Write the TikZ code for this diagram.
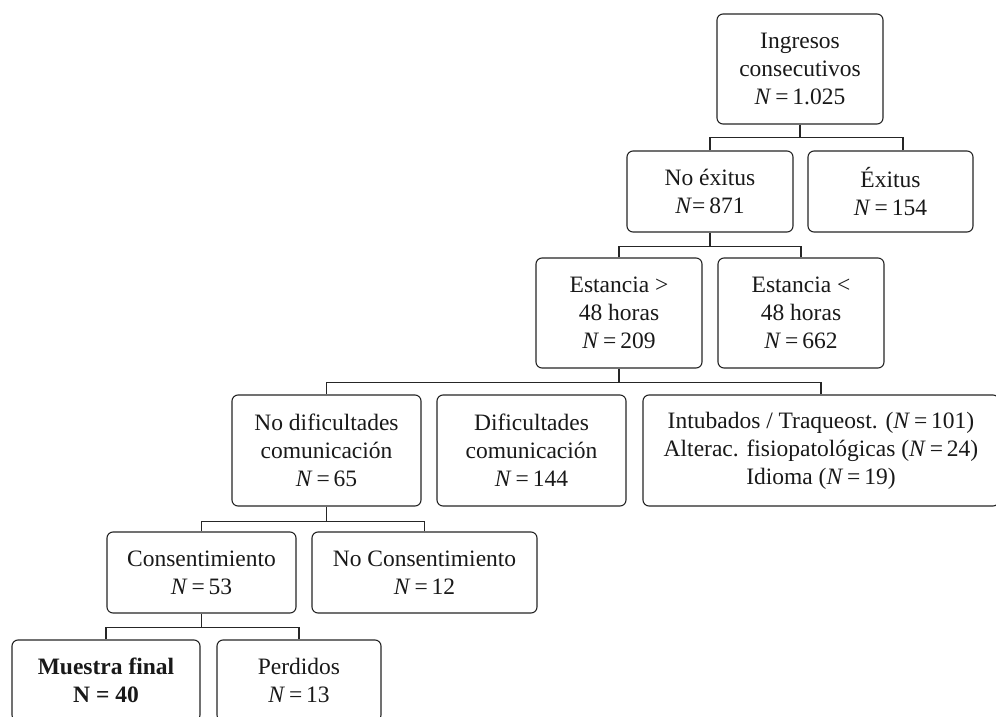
\documentclass[tikz,border=0pt]{standalone}
\usepackage{fontspec}
\setmainfont{Liberation Serif}
\usetikzlibrary{calc}
\begin{document}
\begin{tikzpicture}[x=1pt,y=-1pt,
  box/.style={draw=black!85, line width=1.1pt, rounded corners=6pt, inner sep=0pt,
    align=center, font=\fontsize{23.5}{28}\selectfont, text=black!90},
  conn/.style={draw=black!85, line width=1.1pt}]
\useasboundingbox (0,0) rectangle (996,717);
\fill[white] (0,0) rectangle (996,717);
\node[box, minimum width=166, minimum height=110] (top) at (800,69) {Ingresos\\consecutivos\\\textit{N}\,=\,1.025};
\node[box, minimum width=166, minimum height=81] (noexit) at (710,191.5) {No éxitus\\\textit{N}=\,871};
\node[box, minimum width=165, minimum height=81] (exit) at (890.5,191.5) {Éxitus\\\textit{N}\,=\,154};
\node[box, minimum width=166, minimum height=110] (est1) at (619,313) {Estancia >\\48 horas\\\textit{N}\,=\,209};
\node[box, minimum width=166, minimum height=110] (est2) at (801,313) {Estancia <\\48 horas\\\textit{N}\,=\,662};
\node[box, minimum width=189, minimum height=111] (nodif) at (326.5,450.5) {No dificultades\\comunicación\\\textit{N}\,=\,65};
\node[box, minimum width=189, minimum height=111] (dif) at (531.5,450.5) {Dificultades\\comunicación\\\textit{N}\,=\,144};
\node[box, minimum width=356, minimum height=111] (intub) at (821,450.5) {Intubados / Traqueost. (\textit{N}\,=\,101)\\Alterac. fisiopatológicas (\textit{N}\,=\,24)\\Idioma (\textit{N}\,=\,19)};
\node[box, minimum width=189, minimum height=81] (cons) at (201.5,572.5) {Consentimiento\\\textit{N}\,=\,53};
\node[box, minimum width=225, minimum height=81] (nocons) at (424.5,572.5) {No Consentimiento\\\textit{N}\,=\,12};
\node[box, minimum width=188, minimum height=81] (muestra) at (106,680.5) {\textbf{Muestra final}\\\textbf{N = 40}};
\node[box, minimum width=164, minimum height=81] (perd) at (299,680.5) {Perdidos\\\textit{N}\,=\,13};
% connectors
\draw[conn] (top.south) -- ++(0,13) coordinate (b1);
\draw[conn] (noexit.north) |- (b1);
\draw[conn] ($(exit.north)+(12.5,0)$) |- (b1);
\draw[conn] (noexit.south) -- ++(0,14) coordinate (b2);
\draw[conn] (est1.north) |- (b2);
\draw[conn] (est2.north) |- (b2);
\draw[conn] (est1.south) -- ++(0,14) coordinate (b3);
\draw[conn] (nodif.north) |- (b3);
\draw[conn] (intub.north) |- (b3);
\draw[conn] (nodif.south) -- ++(0,15) coordinate (b4);
\draw[conn] (cons.north) |- (b4);
\draw[conn] (nocons.north) |- (b4);
\draw[conn] (cons.south) -- ++(0,14) coordinate (b5);
\draw[conn] (muestra.north) |- (b5);
\draw[conn] (perd.north) |- (b5);
\end{tikzpicture}
\end{document}
